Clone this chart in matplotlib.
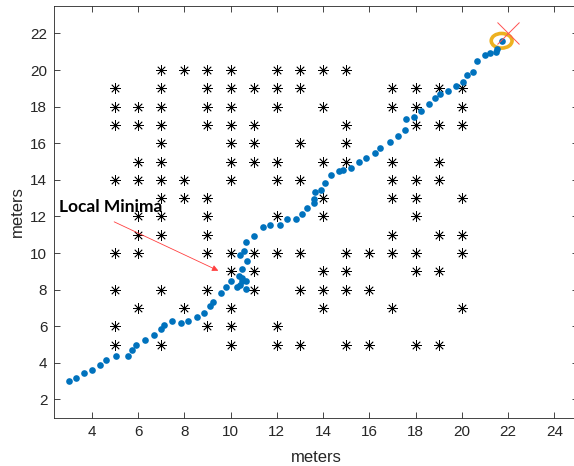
import numpy as np
import matplotlib.pyplot as plt
from matplotlib.patches import Ellipse

# Obstaculos: fila y -> columnas x
obstacle_rows = {
    20: [7, 8, 9, 10, 12, 13, 14, 15],
    19: [5, 7, 9, 10, 11, 12, 13, 17, 18, 19, 20],
    18: [5, 6, 7, 9, 10, 12, 14, 17, 18, 20],
    17: [5, 6, 7, 9, 10, 11, 15, 18, 19, 20],
    16: [7, 10, 11, 13, 15],
    15: [6, 7, 10, 11, 12, 14, 15, 17, 19],
    14: [5, 6, 7, 8, 10, 12, 13, 17, 18, 19],
    13: [7, 8, 9, 14, 17, 18, 20],
    12: [6, 7, 9, 12, 14, 18],
    11: [6, 7, 9, 17, 19, 20],
    10: [5, 6, 9, 10, 11, 12, 13, 15, 16, 17, 18, 20],
    9: [10, 11, 14, 15, 18, 19],
    8: [5, 7, 9, 11, 13, 14, 15, 16],
    7: [6, 8, 10, 14, 17, 20],
    6: [5, 9, 10, 12],
    5: [5, 7, 10, 12, 13, 15, 16, 18, 19],
}

# Trayectoria del robot
path_x = [3.0, 3.32, 3.67, 4.01, 4.36, 4.62, 5.06, 5.57, 5.76, 5.93, 6.29, 6.68,
          7.0, 7.11, 7.49, 7.86, 8.14, 8.54, 8.85, 9.09, 9.24, 9.6, 9.8, 10.0,
          10.29, 10.39, 10.5, 10.68, 10.65, 10.49, 10.35, 10.49, 10.72, 10.43,
          10.6, 10.65, 11.0, 11.4, 11.69, 12.15, 12.44, 12.81, 13.09, 13.3,
          13.61, 13.61, 13.67, 13.92, 14.07, 14.36, 14.69, 14.85, 15.21, 15.57,
          15.86, 16.25, 16.46, 16.91, 17.22, 17.53, 17.6, 17.94, 18.25, 18.6,
          18.85, 19.05, 19.41, 19.74, 20.03, 20.23, 20.48, 20.66, 20.98, 21.2,
          21.46, 21.54, 21.75]
path_y = [3.0, 3.16, 3.44, 3.62, 3.89, 4.17, 4.38, 4.38, 4.69, 4.98, 5.27, 5.51,
          5.84, 6.09, 6.26, 6.2, 6.27, 6.51, 6.75, 7.13, 7.35, 7.82, 8.15, 8.45,
          8.15, 8.27, 8.45, 8.45, 8.04, 8.64, 8.76, 9.13, 9.58, 9.87,
          10.09, 10.58, 10.91, 11.4, 11.55, 11.55, 11.86, 11.87, 12.15, 12.46,
          12.73, 12.95, 13.31, 13.47, 13.84, 14.27, 14.46, 14.55, 14.67, 14.95,
          15.19, 15.48, 15.73, 16.08, 16.42, 16.75, 17.31, 17.44, 17.75, 18.17,
          18.46, 18.69, 18.86, 19.15, 19.37, 19.75, 19.88, 20.5, 20.83, 20.94,
          20.96, 21.14, 21.6]

goal = [22.0, 22.0]
robot_end = [21.72, 21.6]
arrow_start = [4.86, 11.77]
arrow_end = [9.58, 8.97]

ox = [x for y, xs in obstacle_rows.items() for x in xs]
oy = [y for y, xs in obstacle_rows.items() for x in xs]

plt.rcParams['font.family'] = 'Liberation Sans'
axcol = '#262626'

fig = plt.figure(figsize=(5.74, 4.66), dpi=100)
ax = fig.add_axes([0.0946, 0.1036, 0.9115, 0.8835])

ax.plot(ox, oy, linestyle='none', marker=(8, 2, 0), markersize=7.5,
        markeredgewidth=0.55, color='black')
ax.plot(path_x, path_y, 'o', color='#0072BD', markersize=4.8, markeredgewidth=0)
ax.add_patch(Ellipse(robot_end, 0.9, 0.8, fill=False, edgecolor='#EDB120', linewidth=2.6))
ax.plot(goal[0], goal[1], 'x', color='#FF5050', markersize=16, markeredgewidth=0.7)

ax.annotate('', xy=arrow_end, xytext=arrow_start,
            arrowprops=dict(arrowstyle='-|>', color='#FF4040', lw=0.6, mutation_scale=9))
ax.text(2.6, 12.24, 'Local Minima', fontsize=12.5, fontweight='bold',
        family='Lato', color='black', va='baseline', ha='left')

ax.set_xlim(2.38, 25)
ax.set_ylim(1, 23.5)
ax.set_xticks(np.arange(4, 25, 2))
ax.set_yticks(np.arange(2, 23, 2))
ax.tick_params(direction='in', top=True, right=True, length=4, width=0.6,
               colors=axcol, labelsize=11, labelcolor=axcol, pad=5)
for s in ax.spines.values():
    s.set_color(axcol)
    s.set_linewidth(0.6)
ax.set_xlabel('meters', fontsize=12, color=axcol, labelpad=8)
ax.set_ylabel('meters', fontsize=12, color=axcol, labelpad=4)

fig.savefig('out.png', dpi=100)
